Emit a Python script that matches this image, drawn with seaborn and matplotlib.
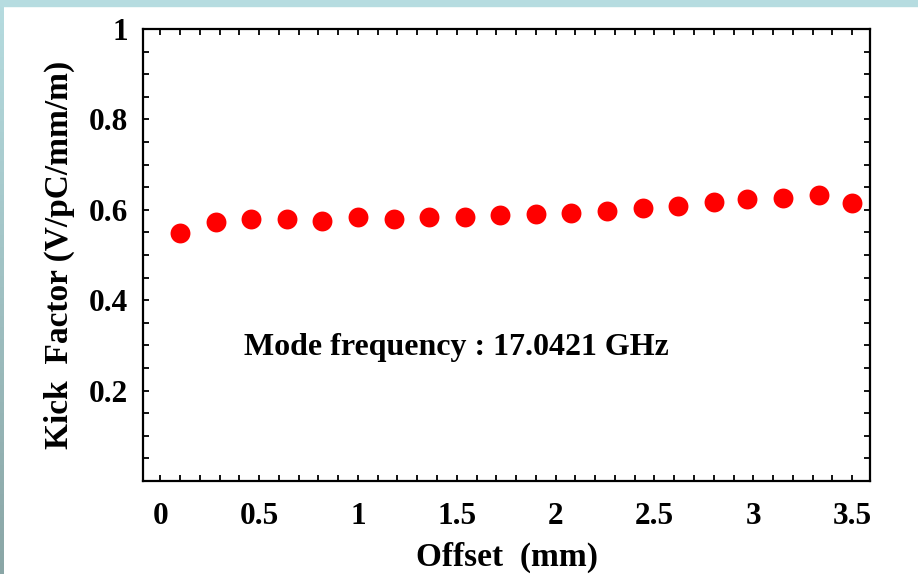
import numpy as np
import pandas as pd
import matplotlib
matplotlib.use("Agg")
import matplotlib.pyplot as plt
from matplotlib.ticker import MultipleLocator, FuncFormatter
import seaborn as sns

# data
offset_mm = [0.10, 0.28, 0.46, 0.64, 0.82, 1.00, 1.18, 1.36, 1.54, 1.72,
             1.90, 2.08, 2.26, 2.44, 2.62, 2.80, 2.97, 3.15, 3.33, 3.50]
kick_factor = [0.549, 0.572, 0.579, 0.579, 0.575, 0.583, 0.579, 0.583, 0.585, 0.588,
               0.590, 0.593, 0.597, 0.605, 0.609, 0.617, 0.623, 0.627, 0.633, 0.616]
x_ticks = [0, 0.5, 1, 1.5, 2, 2.5, 3, 3.5]
y_ticks = [0.2, 0.4, 0.6, 0.8, 1.0]
note = "Mode frequency : 17.0421 GHz"

df = pd.DataFrame({"offset": offset_mm, "kick": kick_factor})

sns.set_style("ticks")
plt.rcParams["font.family"] = ["Liberation Serif", "DejaVu Serif"]
plt.rcParams["font.weight"] = "bold"
plt.rcParams["text.color"] = "black"
plt.rcParams["axes.labelcolor"] = "black"
plt.rcParams["xtick.color"] = "black"
plt.rcParams["ytick.color"] = "black"

fig = plt.figure(figsize=(9.18, 5.74), dpi=100)

# slide-like frame: light band on top, gradient strip at left
fig.patches.append(plt.Rectangle((0, 1 - 6 / 574), 1, 6 / 574, transform=fig.transFigure,
                                 color="#b6dce0", zorder=0))
strip = fig.add_axes([0, 0, 4 / 918, 1])
grad = np.linspace(0, 1, 100).reshape(-1, 1)
cmap = matplotlib.colors.LinearSegmentedColormap.from_list("strip", ["#b6dce0", "#8aa6a6"])
strip.imshow(grad, aspect="auto", cmap=cmap, extent=[0, 1, 0, 1], origin="upper")
strip.set_axis_off()

ax = fig.add_axes([143 / 918, 1 - 481 / 574, (870 - 143) / 918, (481 - 29) / 574])
sns.scatterplot(data=df, x="offset", y="kick", ax=ax, color="#ff0000", s=205,
                linewidth=0, legend=False, zorder=3)

ax.set_xlim(-0.087, 3.59)
ax.set_ylim(0, 1)
ax.set_xticks(x_ticks)
ax.set_yticks(y_ticks)
ax.xaxis.set_minor_locator(MultipleLocator(0.1))
ax.yaxis.set_minor_locator(MultipleLocator(0.05))
fmt = FuncFormatter(lambda v, p: f"{v:g}")
ax.xaxis.set_major_formatter(fmt)
ax.yaxis.set_major_formatter(fmt)

for side in ax.spines.values():
    side.set_linewidth(1.6)
    side.set_color("black")
ax.tick_params(which="both", direction="in", top=True, right=True,
               length=4, width=1.3, color="black")
ax.tick_params(axis="x", which="major", pad=15, labelsize=22.5, labelcolor="black")
ax.tick_params(axis="y", which="major", pad=11, labelsize=22.5, labelcolor="black")
for lab in ax.get_xticklabels() + ax.get_yticklabels():
    lab.set_fontweight("bold")

ax.set_xlabel("Offset  (mm)", fontsize=24, fontweight="bold", labelpad=8, color="black")
ax.set_ylabel("Kick  Factor (V/pC/mm/m)", fontsize=24, fontweight="bold", labelpad=10,
              color="black")

ax.text(1.5, 0.295, note, ha="center", va="center", fontsize=23, fontweight="bold",
        color="black")

fig.savefig("out.png", dpi=100)
